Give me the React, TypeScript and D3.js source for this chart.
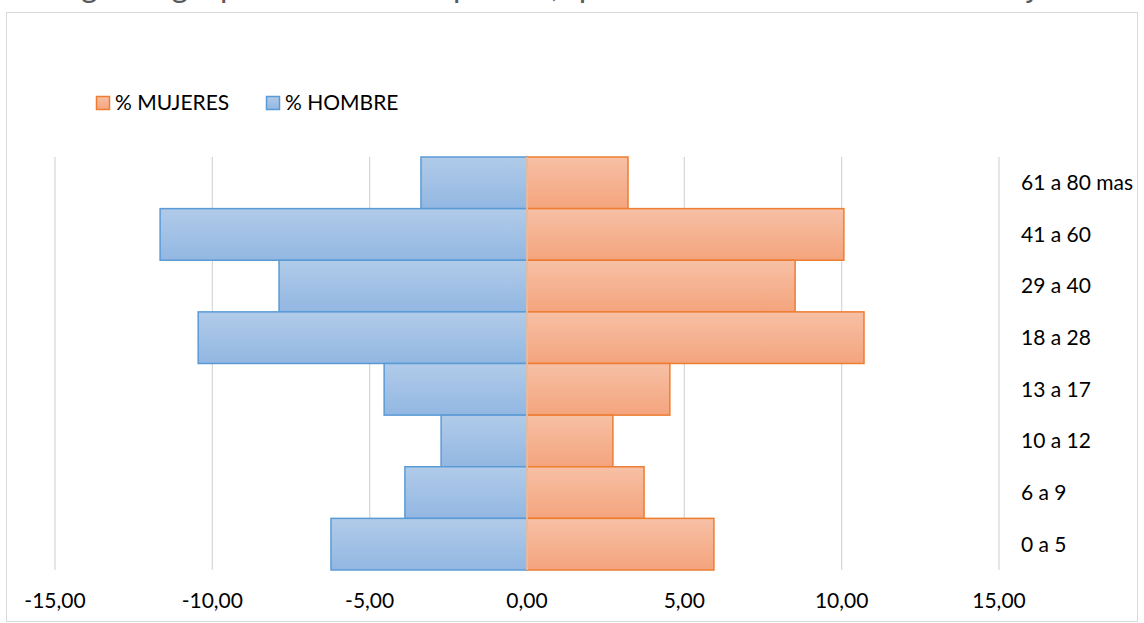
import * as d3 from "d3";

const ageGroups = ["61 a 80 mas", "41 a 60", "29 a 40", "18 a 28", "13 a 17", "10 a 12", "6 a 9", "0 a 5"];
const hombres = [-3.37, -11.66, -7.88, -10.45, -4.54, -2.73, -3.88, -6.23];
const mujeres = [3.21, 10.07, 8.52, 10.71, 4.54, 2.73, 3.72, 5.94];
const xTicks = [-15, -10, -5, 0, 5, 10, 15];
const seriesNames = ["% MUJERES", "% HOMBRE"];
const title = "Rango de grupos de edad de padres, que asistieron al taller de manejo";

const width = 1144;
const height = 623;
const plot = { left: 55, right: 999, top: 157, bottom: 570 };
const font = "Lato, 'Open Sans', sans-serif";

const App = () => {
  const xScale = d3.scaleLinear().domain([-15, 15]).range([plot.left, plot.right]);
  const yScale = d3.scaleBand().domain(ageGroups).range([plot.top, plot.bottom]).padding(0);
  const fmt = (v: number) => d3.format(".2f")(v).replace(".", ",").replace("\u2212", "-");

  const bar = (v: number) => ({
    x: Math.min(xScale(0), xScale(v)),
    w: Math.abs(xScale(v) - xScale(0)),
  });

  return (
    <svg width={width} height={height} style={{ position: "absolute", left: 0, top: 0, background: "#fff" }}>
      <defs>
        <linearGradient id="gradBlue" x1="0" y1="0" x2="0" y2="1">
          <stop offset="0%" stopColor="#b1cbe9" />
          <stop offset="100%" stopColor="#92b7e2" />
        </linearGradient>
        <linearGradient id="gradOrange" x1="0" y1="0" x2="0" y2="1">
          <stop offset="0%" stopColor="#f7c0a5" />
          <stop offset="100%" stopColor="#f4a47d" />
        </linearGradient>
      </defs>

      <text x={25} y={-3} fontSize={32} letterSpacing={0.8} fill="#595959" fontFamily={font}>{title}</text>

      <rect x={6.5} y={12.5} width={1131} height={609} fill="#fff" stroke="#d9d9d9" />

      {/* legend */}
      <g fontFamily={font} fontSize={21} fill="#000">
        <rect x={96.5} y={96.5} width={13} height={13} fill="url(#gradOrange)" stroke="#ed7d31" strokeWidth={1.5} />
        <text x={115} y={110}>{seriesNames[0]}</text>
        <rect x={266.5} y={96.5} width={13} height={13} fill="url(#gradBlue)" stroke="#5b9bd5" strokeWidth={1.5} />
        <text x={285} y={110}>{seriesNames[1]}</text>
      </g>

      {/* gridlines */}
      {xTicks.filter((t) => t !== 0).map((t) => (
        <line key={t} x1={xScale(t)} x2={xScale(t)} y1={plot.top} y2={plot.bottom} stroke="#d9d9d9" strokeWidth={1.3} />
      ))}

      {/* bars */}
      {ageGroups.map((g, i) => {
        const h = bar(hombres[i]);
        const m = bar(mujeres[i]);
        const y = yScale(g)!;
        const bh = yScale.bandwidth();
        return (
          <g key={g}>
            <rect x={h.x} y={y} width={h.w} height={bh} fill="url(#gradBlue)" stroke="#5b9bd5" strokeWidth={1.5} />
            <rect x={m.x} y={y} width={m.w} height={bh} fill="url(#gradOrange)" stroke="#ed7d31" strokeWidth={1.5} />
          </g>
        );
      })}

      <line x1={xScale(0)} x2={xScale(0)} y1={plot.top} y2={plot.bottom} stroke="#e3d6cf" strokeWidth={1.3} />

      {/* category labels */}
      <g fontFamily={font} fontSize={21} fill="#000">
        {ageGroups.map((g) => (
          <text key={g} x={1021} y={yScale(g)! + yScale.bandwidth() / 2} dy="0.35em">{g}</text>
        ))}
      </g>

      {/* x tick labels */}
      <g fontFamily={font} fontSize={21} fill="#000" textAnchor="middle">
        {xTicks.map((t) => (
          <text key={t} x={xScale(t)} y={608}>{fmt(t)}</text>
        ))}
      </g>
    </svg>
  );
};

export default App;
